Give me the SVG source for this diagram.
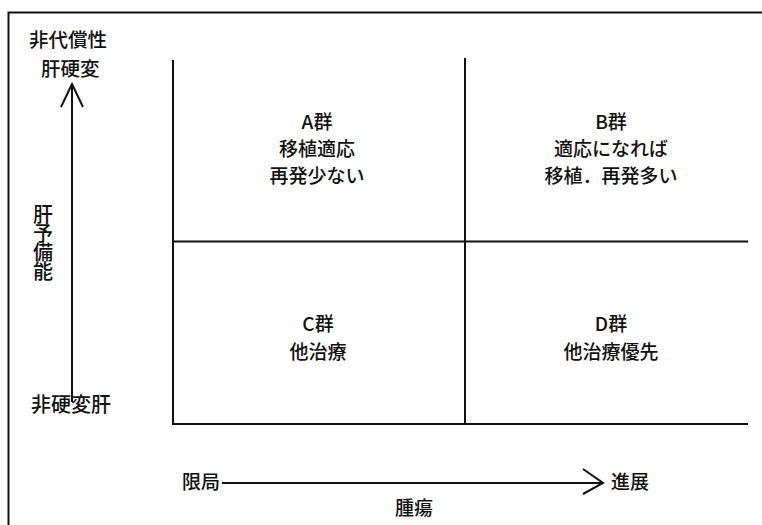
<svg xmlns="http://www.w3.org/2000/svg" width="762" height="525" viewBox="0 0 762 525">
<style>
text{font-family:"Noto Sans CJK JP","Noto Sans CJK SC",sans-serif;font-size:19px;font-weight:500;fill:#111}
.c{text-anchor:middle}
.l{font-size:20px}
.ln{stroke:#111;stroke-width:2;fill:none}
</style>
<rect width="762" height="525" fill="#fff"/>
<path class="ln" d="M8.5,525 V12.5 H762"/>
<g id="grid">
<path class="ln" d="M173,60 V424 H748 M173,241.5 H748 M465,58 V424"/>
</g>
<g id="connectors">
<path class="ln" d="M72,402 V86 M61,107 L72,84 L83,107"/>
<path class="ln" d="M222,483 H602 M583,469 L603,483 L583,494"/>
</g>
<g id="yaxis-labels">
<text x="29" y="47" style="font-size:19.5px">非代償性</text>
<text x="41" y="75.5" style="font-size:19.5px">肝硬変</text>
<text x="43" y="204" class="l" style="writing-mode:vertical-rl;letter-spacing:-1px">肝予備能</text>
<text x="31" y="412" class="l">非硬変肝</text>
</g>
<g id="xaxis-labels">
<text x="182" y="489">限局</text>
<text x="611" y="489">進展</text>
<text x="414" y="515" class="c">腫瘍</text>
</g>
<g id="groupA">
<text x="317" y="129" class="c">A群</text>
<text x="317" y="156" class="c">移植適応</text>
<text x="317" y="183" class="c">再発少ない</text>
</g>
<g id="groupB">
<text x="611" y="129" class="c">B群</text>
<text x="611" y="156" class="c">適応になれば</text>
<text x="611" y="183" class="c">移植．再発多い</text>
</g>
<g id="groupC">
<text x="318" y="331" class="c">C群</text>
<text x="318" y="359" class="c">他治療</text>
</g>
<g id="groupD">
<text x="611" y="331" class="c">D群</text>
<text x="611" y="359" class="c">他治療優先</text>
</g>
</svg>
